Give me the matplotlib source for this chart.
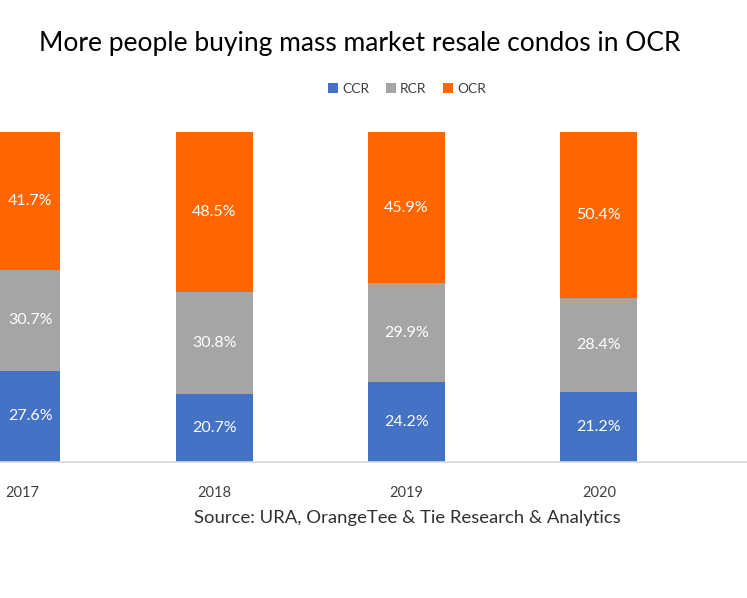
import matplotlib.pyplot as plt
import numpy as np

plt.rcParams['font.family'] = ['Lato', 'DejaVu Sans']

years = ['2017', '2018', '2019', '2020']
ccr = [27.6, 20.7, 24.2, 21.2]
rcr = [30.7, 30.8, 29.9, 28.4]
ocr = [41.7, 48.5, 45.9, 50.4]

colors = {'CCR': '#4472C4', 'RCR': '#A5A5A5', 'OCR': '#FF6600'}

fig = plt.figure(figsize=(7.47, 5.98), dpi=100)
ax = fig.add_axes([0, 1 - 462 / 598, 1, 330 / 598])

x = np.arange(len(years))
w = 0.40
bottom = np.zeros(len(years))
for name, vals in [('CCR', ccr), ('RCR', rcr), ('OCR', ocr)]:
    bars = ax.bar(x, vals, w, bottom=bottom, color=colors[name], label=name)
    ax.bar_label(bars, labels=[f'{v:.1f}%' for v in vals], label_type='center',
                 color='white', fontsize=11.5)
    bottom += np.array(vals)

ax.set_xlim(-22 / 192.3, 725 / 192.3)
ax.set_ylim(0, 100)
ax.set_xticks(x)
ax.set_xticklabels(years, fontsize=10.5, color='#404040')
ax.tick_params(axis='x', length=0, pad=17)
ax.set_yticks([])
for s in ['top', 'left', 'right']:
    ax.spines[s].set_visible(False)
ax.spines['bottom'].set_color('#d9d9d9')
ax.spines['bottom'].set_linewidth(1.2)

fig.text(360 / 747, 1 - 43 / 598, 'More people buying mass market resale condos in OCR',
         ha='center', va='center', fontsize=19, color='black')
fig.legend(loc='center', bbox_to_anchor=(407 / 747, 1 - 89 / 598), ncol=3,
           frameon=False, fontsize=10, handlelength=0.7, handleheight=0.7,
           handletextpad=0.3, columnspacing=1.2, labelcolor='#404040')
fig.text(407 / 747, 1 - 518 / 598, 'Source: URA, OrangeTee & Tie Research & Analytics',
         ha='center', va='center', fontsize=13.3, color='#303030')

fig.savefig('out.png', dpi=100)
